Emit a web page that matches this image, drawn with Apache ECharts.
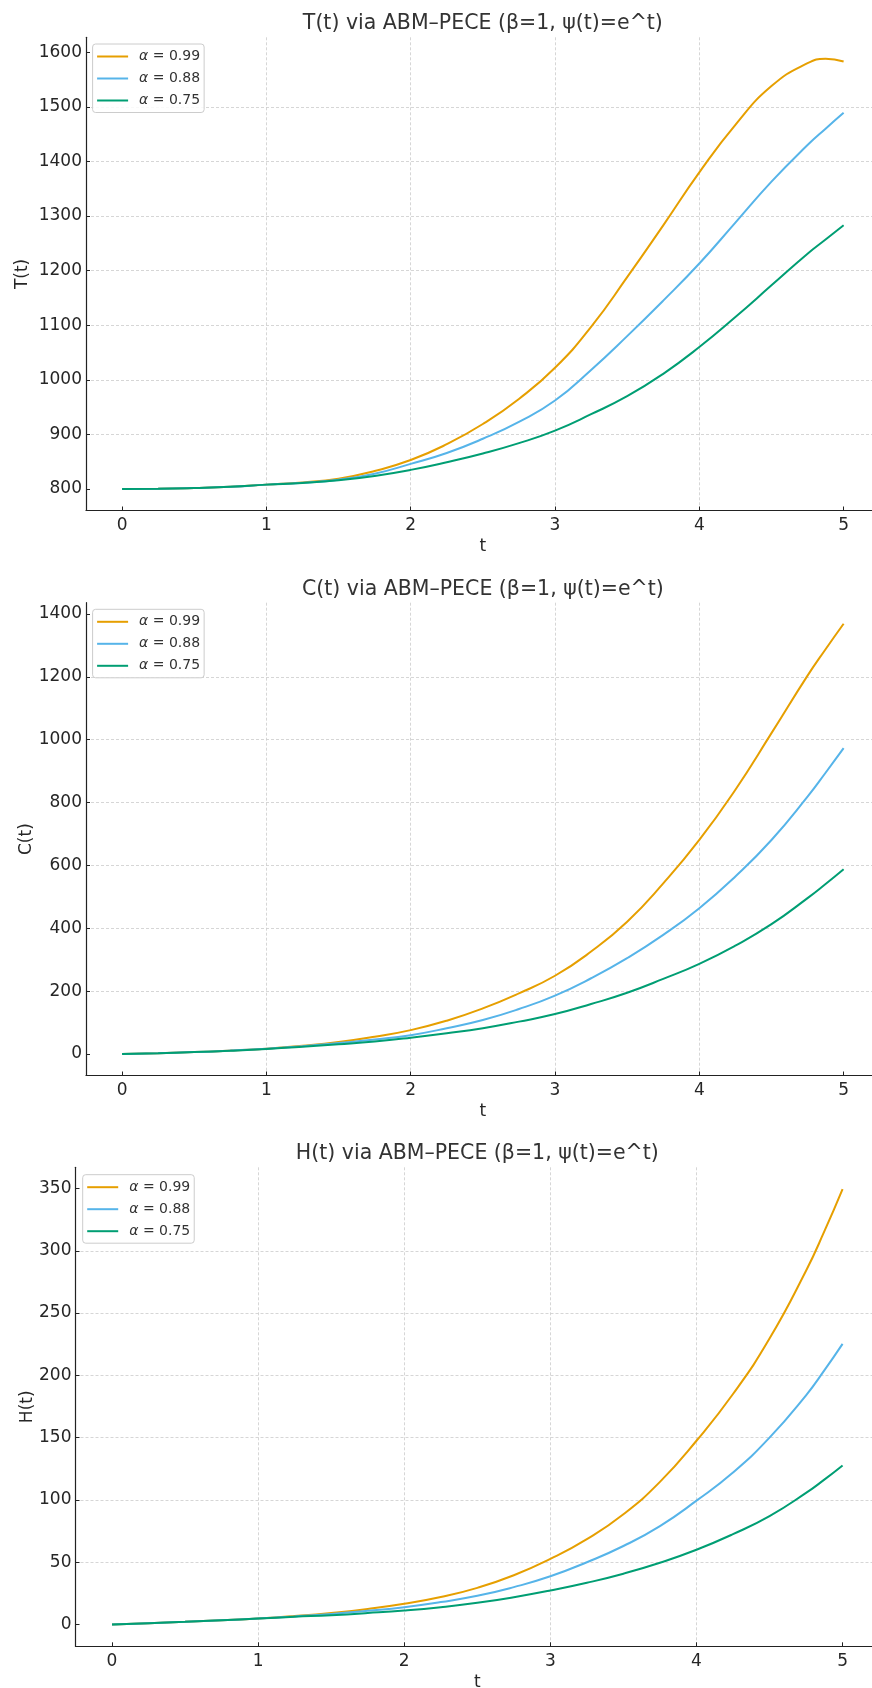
<!DOCTYPE html>
<html>
<head>
<meta charset="utf-8">
<script src="https://cdn.jsdelivr.net/npm/echarts@6/dist/echarts.min.js"></script>
<style>
  html, body { margin: 0; padding: 0; background: #ffffff; overflow: hidden; }
  #chart { width: 872px; height: 1688px; }
</style>
</head>
<body>
<div id="chart"></div>
<script>
// Time grid shared by all solutions
const tValues = [0, 0.25, 0.5, 0.75, 1, 1.25, 1.5, 1.75, 2, 2.25, 2.5, 2.75, 3, 3.25, 3.5, 3.75, 4, 4.25, 4.5, 4.75, 4.875, 5];

// Series labels (fractional order alpha)
const alphaLabels = ['α = 0.99', 'α = 0.88', 'α = 0.75'];

// T(t)
const T_a099 = [800, 800.4, 801.8, 804, 808, 812, 819, 833, 853, 882, 919, 965, 1022, 1097, 1188, 1283, 1380, 1467, 1538, 1580, 1588, 1583];
const T_a088 = [800, 800.4, 801.8, 804, 808, 811.5, 817, 828, 846, 866, 892, 923, 962, 1018, 1080, 1145, 1213, 1288, 1363, 1430, 1460, 1489];
const T_a075 = [800, 800.4, 801.8, 804, 808, 811, 816, 824, 835, 849, 865, 884, 907, 937, 970, 1011, 1060, 1115, 1173, 1231, 1257, 1283];

// C(t)
const C_a099 = [0, 2.5, 6, 11, 17, 26, 38, 55, 76, 106, 145, 193, 249, 326, 421, 543, 681, 841, 1021, 1204, 1288, 1369];
const C_a088 = [0, 2.5, 6, 11, 17, 25, 35, 46, 60, 82, 108, 143, 186, 241, 305, 379, 464, 565, 681, 819, 895, 973];
const C_a075 = [0, 2.5, 6, 10.5, 16, 23, 31, 40, 52, 66, 82, 103, 127, 159, 195, 239, 287, 345, 413, 496, 541, 588];

// H(t)
const H_a099 = [0, 1.1, 2.2, 3.4, 4.8, 6.8, 9.3, 12.5, 16.6, 22, 29.4, 39.5, 52.6, 68.5, 88.5, 114.5, 147.5, 185, 229.5, 284, 315.5, 349.5];
const H_a088 = [0, 1.1, 2.2, 3.4, 4.8, 6.5, 8.5, 11, 13.9, 18, 23, 30, 38.7, 50, 63, 79, 99.4, 122, 150, 184, 204, 225.3];
const H_a075 = [0, 1.1, 2.2, 3.4, 4.8, 6.2, 7.5, 9.2, 11.2, 13.9, 17.4, 21.9, 27.3, 33.5, 40.8, 49.6, 60, 72.5, 87, 105.6, 116.3, 127.7];

// Tick labels
const xTicks = [0, 1, 2, 3, 4, 5];
const T_ticks = [800, 900, 1000, 1100, 1200, 1300, 1400, 1500, 1600];
const C_ticks = [0, 200, 400, 600, 800, 1000, 1200, 1400];
const H_ticks = [0, 50, 100, 150, 200, 250, 300, 350];

// Titles and axis names
const titles = ['T(t) via ABM–PECE (β=1, ψ(t)=e^t)', 'C(t) via ABM–PECE (β=1, ψ(t)=e^t)', 'H(t) via ABM–PECE (β=1, ψ(t)=e^t)'];
const yNames = ['T(t)', 'C(t)', 'H(t)'];
const xName = 't';

const colors = ['#E69F00', '#56B4E9', '#009E73'];
const FONT = 'DejaVu Sans';
const TEXT = '#262626';

// Panel layout (pixels) and axis extents
const panels = [
  { grid: { left: 86, top: 37.3, width: 793.7, height: 473.2 }, yMin: 760.6, yMax: 1627.4, yTicks: T_ticks, split: 8,
    series: [T_a099, T_a088, T_a075], legend: { left: 92.6, top: 44 }, nameGap: 54.5 },
  { grid: { left: 86, top: 602.7, width: 793.7, height: 472.8 }, yMin: -68.4, yMax: 1436, yTicks: C_ticks, split: 7,
    series: [C_a099, C_a088, C_a075], legend: { left: 92.6, top: 609.3 }, nameGap: 51 },
  { grid: { left: 75.5, top: 1167.3, width: 803.6, height: 479 }, yMin: -17.5, yMax: 367, yTicks: H_ticks, split: 8,
    series: [H_a099, H_a088, H_a075], legend: { left: 82.7, top: 1174.7 }, nameGap: 39.5 }
];

const axisLineStyle = { color: '#222222', width: 1.2 };
const gridLineStyle = { color: '#cccccc', width: 0.8, type: [3, 2] };
const plainNumber = v => String(v);

const option = {
  animation: false,
  backgroundColor: '#ffffff',
  textStyle: { fontFamily: FONT },
  title: [], grid: [], xAxis: [], yAxis: [], legend: [], series: []
};

panels.forEach((p, i) => {
  const g = p.grid;
  option.grid.push({
    left: g.left, top: g.top, width: g.width, height: g.height,
    containLabel: false, outerBoundsMode: 'none'
  });

  option.title.push({
    text: titles[i],
    left: g.left + g.width / 2,
    top: g.top - 24,
    textAlign: 'center',
    padding: 0,
    textStyle: { fontFamily: FONT, fontSize: 20.5, fontWeight: 'normal', color: '#333333' }
  });

  option.xAxis.push({
    type: 'value', gridIndex: i, min: -0.25, max: 5.25, splitNumber: 5,
    name: xName, nameLocation: 'middle', nameGap: 28, nameMoveOverlap: false,
    nameTextStyle: { fontFamily: FONT, fontSize: 17, color: TEXT },
    axisLine: { show: true, onZero: false, lineStyle: axisLineStyle },
    axisTick: { show: true, inside: true, length: 4, customValues: xTicks, lineStyle: { color: '#222222', width: 1 } },
    axisLabel: { customValues: xTicks, formatter: plainNumber, margin: 7, fontFamily: FONT, fontSize: 17, color: TEXT },
    splitLine: { show: true, showMinLine: false, showMaxLine: false, lineStyle: gridLineStyle }
  });

  option.yAxis.push({
    type: 'value', gridIndex: i, min: p.yMin, max: p.yMax, splitNumber: p.split,
    name: yNames[i], nameLocation: 'middle', nameGap: p.nameGap, nameMoveOverlap: false,
    nameTextStyle: { fontFamily: FONT, fontSize: 17, color: TEXT },
    axisLine: { show: true, onZero: false, lineStyle: axisLineStyle },
    axisTick: { show: true, inside: true, length: 4, customValues: p.yTicks, lineStyle: { color: '#222222', width: 1 } },
    axisLabel: { customValues: p.yTicks, formatter: plainNumber, margin: 4, fontFamily: FONT, fontSize: 17, color: TEXT },
    splitLine: { show: true, showMinLine: false, showMaxLine: false, lineStyle: gridLineStyle }
  });

  option.legend.push({
    orient: 'vertical',
    left: p.legend.left, top: p.legend.top,
    data: alphaLabels,
    padding: [4.5, 4, 4, 4.5],
    itemGap: 6, itemWidth: 31, itemHeight: 2,
    icon: 'rect',
    itemStyle: { borderWidth: 0 },
    backgroundColor: 'rgba(255,255,255,0.85)',
    borderColor: '#cccccc', borderWidth: 1, borderRadius: 3,
    selectedMode: false,
    formatter: name => '{a|' + name.slice(0, 1) + '}{b|' + name.slice(1) + '}',
    textStyle: {
      fontFamily: FONT, fontSize: 14, color: '#333333', lineHeight: 16, padding: [0, 0, 0, 6],
      rich: {
        a: { fontFamily: FONT, fontStyle: 'italic', fontSize: 14, color: '#333333', lineHeight: 16 },
        b: { fontFamily: FONT, fontSize: 14, color: '#333333', lineHeight: 16 }
      }
    }
  });

  p.series.forEach((vals, k) => {
    option.series.push({
      name: alphaLabels[k],
      type: 'line',
      xAxisIndex: i, yAxisIndex: i,
      data: tValues.map((t, j) => [t, vals[j]]),
      showSymbol: false, symbol: 'none',
      smooth: 0.5,
      clip: true,
      color: colors[k],
      lineStyle: { color: colors[k], width: 2 },
      emphasis: { disabled: true }
    });
  });
});

const chart = echarts.init(document.getElementById('chart'), null, { renderer: 'canvas' });
chart.setOption(option);
</script>
</body>
</html>
